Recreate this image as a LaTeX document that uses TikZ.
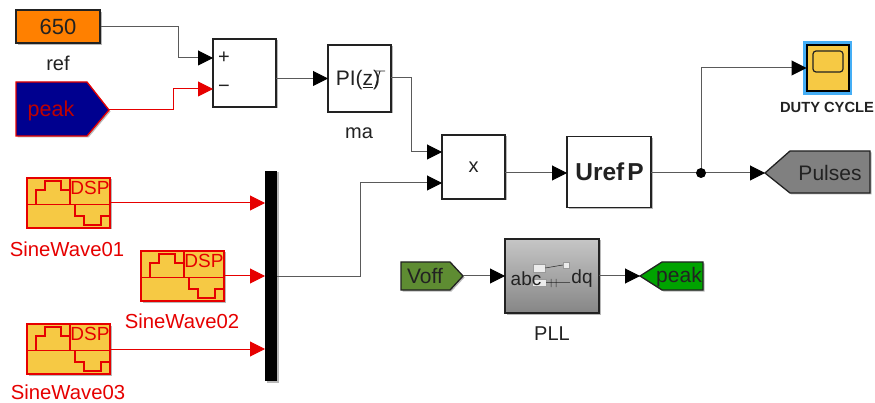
\documentclass[tikz,border=0pt]{standalone}
\usepackage{fontspec}
\setmainfont{Liberation Sans}
\usetikzlibrary{arrows.meta,shadows,calc}
\definecolor{wiregray}{HTML}{5A5A5A}
\definecolor{sigred}{HTML}{E60000}
\definecolor{inkdark}{HTML}{222222}
\definecolor{orangeblk}{HTML}{FF8000}
\definecolor{navyblk}{HTML}{00008F}
\definecolor{dspyellow}{HTML}{F6C944}
\definecolor{scopeblue}{HTML}{45AEF5}
\definecolor{voffgreen}{HTML}{5E8C32}
\definecolor{peakgreen}{HTML}{00A300}
\newcommand{\fs}[1]{\fontsize{#1}{#1}\selectfont}
\tikzset{
  softshadow/.style={drop shadow={shadow xshift=1.5pt,shadow yshift=-1.5pt,opacity=.28,fill=black}},
  blockbox/.style={draw=inkdark,line width=1.3pt,fill=white,rectangle,inner sep=0pt,softshadow,text=inkdark},
  label/.style={inner sep=0pt,text=inkdark,font=\fs{20}},
  redlabel/.style={inner sep=0pt,text=sigred,font=\fs{20.3}},
  wire/.style={draw=wiregray,line width=1pt,-{Triangle[length=15pt,width=15pt,black]}},
  wireplain/.style={draw=wiregray,line width=1pt},
  redwire/.style={color=sigred,line width=1pt,-{Triangle[length=15pt,width=15pt,sigred]}},
  dspbox/.style={draw=sigred,line width=1.6pt,fill=dspyellow,rectangle,inner sep=0pt,minimum width=83pt,minimum height=50pt,softshadow},
  dspline/.style={color=sigred,line width=1.7pt},
  poly/.style={line width=1.3pt,softshadow},
}
\newcommand{\dspicon}[2]{% top-left corner x,y
  \begin{scope}[shift={(#1,#2)}]
    \draw[dspline] (0,26.5) -- (83,26.5);
    \draw[dspline] (42.7,0) -- (42.7,26.5);
    \draw[dspline] (9.3,26.5) -- (9.3,11.7) -- (17.7,11.7) -- (17.7,3.3) -- (34.3,3.3) -- (34.3,11.7) -- (42.7,11.7);
    \draw[dspline] (48.3,26.5) -- (48.3,37.7) -- (56.7,37.7) -- (56.7,46.7) -- (74.3,46.7) -- (74.3,37.7) -- (83,37.7);
  \end{scope}}
\begin{document}
\begin{tikzpicture}[x=1pt,y=-1pt]
\useasboundingbox (0,0) rectangle (875,403);

% constant and from-tag
\node[blockbox,fill=orangeblk,minimum width=84pt,minimum height=33pt,font=\fs{22}] (ref) at (58,26.6) {650};
\node[label] (reflabel) at (58,63) {ref};
\draw[poly,draw=sigred,fill=navyblk] (16,82) -- (87,82) -- (109,110) -- (87,136) -- (16,136) -- cycle;
\node[inner sep=0pt,text=red!75!black,font=\fs{21.5}] (peakfrom) at (51,111) {peak};
\coordinate (peakout) at (109,110);

% sum
\node[blockbox,minimum width=63pt,minimum height=68pt] (sum) at (244.5,73) {};
\node[label] (plus) at (224,58) {+};
\node[label] (minus) at (224,89) {\textminus};
\coordinate (sumA) at (213,58);
\coordinate (sumB) at (213,89);
\coordinate (sumOut) at (276,78.5);

% PI
\node[blockbox,minimum width=63pt,minimum height=67pt] (pi) at (359.5,78.5) {};
\node[label,font=\fs{21}] (pitext) at (358,80) {PI(\underline{z})};
\draw[inkdark,line width=.8pt] (376,71) -- (385,71) (380,71) -- (375,88);
\node[label] (ma) at (359,133) {ma};
\coordinate (piIn) at (328,78.5);
\coordinate (piOut) at (391,78);

% product
\node[blockbox,minimum width=63pt,minimum height=64pt,font=\fs{20}] (prod) at (473.5,167) {x};
\coordinate (prodA) at (442,152);
\coordinate (prodB) at (442,183);
\coordinate (prodOut) at (505,173);

% Uref P
\node[blockbox,minimum width=84pt,minimum height=71pt] (uref) at (609,172) {};
\node[inner sep=0pt,text=inkdark,font=\fs{24.5}\bfseries] (ureftext) at (609.5,172) {Uref\hspace{.12em}P};
\coordinate (urefIn) at (567,173);
\coordinate (urefOut) at (651,173);
\coordinate[] (branch) at (701,173);

% scope
\node[rectangle,fill=scopeblue,minimum width=49pt,minimum height=54pt,inner sep=0pt] (scopeglow) at (827.5,68) {};
\node[draw=black,line width=1.5pt,fill=dspyellow,rectangle,minimum width=42pt,minimum height=46pt,inner sep=0pt] (scope) at (828,68) {};
\node[draw=inkdark,line width=1.2pt,rectangle,rounded corners=3pt,minimum width=30pt,minimum height=21pt,inner sep=0pt] (screen) at (828,61.5) {};
\node[inner sep=0pt,text=inkdark,font=\fs{14.7}\bfseries] (dutylabel) at (827,107) {DUTY CYCLE};
\coordinate (scopeIn) at (806.5,68);

% goto Pulses
\draw[poly,draw=inkdark,fill=gray] (765,173) -- (790,151) -- (870,151) -- (870,193) -- (790,193) -- cycle;
\node[inner sep=0pt,text=inkdark,font=\fs{21}] (pulses) at (830,173) {Pulses};
\coordinate (pulsesIn) at (765,173);

% DSP sources
\node[dspbox] (sw1) at (68.5,203) {};
\dspicon{27}{178}
\node[inner sep=0pt,text=sigred,font=\fs{19}] (dsp1) at (90,187.5) {DSP};
\node[redlabel] (sw1l) at (67,249) {SineWave01};
\node[dspbox] (sw2) at (182.5,276) {};
\dspicon{141}{251}
\node[inner sep=0pt,text=sigred,font=\fs{19}] (dsp2) at (204,260.5) {DSP};
\node[redlabel] (sw2l) at (182,321) {SineWave02};
\node[dspbox] (sw3) at (68.5,349) {};
\dspicon{27}{324}
\node[inner sep=0pt,text=sigred,font=\fs{19}] (dsp3) at (90,333.5) {DSP};
\node[redlabel] (sw3l) at (68,392) {SineWave03};

% mux bar
\node[fill=black,rectangle,inner sep=0pt,minimum width=12pt,minimum height=210pt,softshadow] (mux) at (271,276) {};
\coordinate (muxA) at (265,203);
\coordinate (muxB) at (265,276);
\coordinate (muxC) at (265,349);
\coordinate (muxOut) at (277,277);

% Voff tag
\draw[poly,draw=inkdark,fill=voffgreen] (401,262) -- (450,262) -- (463,276) -- (450,290) -- (401,290) -- cycle;
\node[inner sep=0pt,text=inkdark,font=\fs{21}] (voff) at (425,276) {Voff};
\coordinate (voffOut) at (463,276);

% PLL
\node[draw=inkdark,line width=1.3pt,rectangle,inner sep=0pt,minimum width=94pt,minimum height=74pt,top color=gray!45,bottom color=gray!95,softshadow] (pll) at (552,276) {};
\node[draw=gray!80,fill=gray!15,line width=.4pt,rectangle,inner sep=0pt,minimum width=12pt,minimum height=8pt] (pllA) at (539,268) {};
\node[draw=gray!80,fill=gray!15,line width=.4pt,rectangle,inner sep=0pt,minimum width=6pt,minimum height=6pt] (pllB) at (566,265) {};
\node[draw=gray!80,fill=gray!15,line width=.4pt,rectangle,inner sep=0pt,minimum width=14pt,minimum height=7pt] (pllC) at (539,282.5) {};
\draw[gray!30!black,line width=.5pt] (pllA.east) -- (pllB.west) (pllC.east) -- (570,282.5) (551,279) -- (551,287) (556,279) -- (556,287);
\node[inner sep=0pt,text=inkdark,font=\fs{19}] (abc) at (526,279) {abc};
\node[inner sep=0pt,text=inkdark,font=\fs{19}] (dq) at (582,279) {dq};
\node[label] (plllabel) at (552,334) {PLL};
\coordinate (pllIn) at (505,276);
\coordinate (pllOut) at (599,276);

% goto peak
\draw[poly,draw=inkdark,fill=peakgreen] (640,276) -- (662,262) -- (703,262) -- (703,290) -- (662,290) -- cycle;
\node[inner sep=0pt,text=inkdark,font=\fs{21}] (peakto) at (679,277) {peak};
\coordinate (peakIn) at (640,276);

% connectors
\draw[wire] (ref.east) -- (178,26.6) -- (178,58) -- (sumA);
\draw[redwire] (peakout) -- (173,110) -- (173,89) -- (sumB);
\draw[wire] (sumOut) -- (piIn);
\draw[wire] (piOut) -- (411,78) -- (411,152) -- (prodA);
\draw[wire] (muxOut) -- (360,277) -- (360,183) -- (prodB);
\draw[wire] (prodOut) -- (urefIn);
\draw[wireplain] (urefOut) -- (branch);
\draw[wire] (branch) -- (pulsesIn);
\draw[wire] (branch) -- (701,68) -- (scopeIn);
\fill[black] (branch) circle (5pt);
\draw[redwire] (sw1.east |- muxA) -- (muxA);
\draw[redwire] (sw2.east |- muxB) -- (muxB);
\draw[redwire] (sw3.east |- muxC) -- (muxC);
\draw[wire] (voffOut) -- (pllIn);
\draw[wire] (pllOut) -- (peakIn);
\end{tikzpicture}
\end{document}
